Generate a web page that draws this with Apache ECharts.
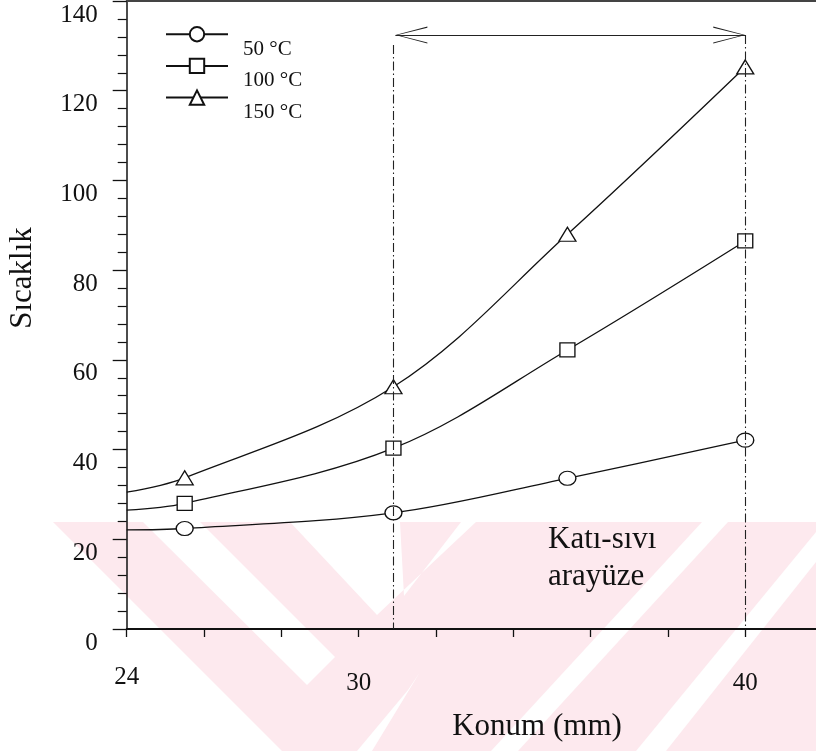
<!DOCTYPE html>
<html><head><meta charset="utf-8">
<script src="https://cdn.jsdelivr.net/npm/echarts@6/dist/echarts.min.js"></script>
<style>html,body{margin:0;padding:0;background:#fff}#c{width:816px;height:751px}</style>
</head><body><div id="c"></div>
<script>
// ---- data ----
const positions = [25.5, 30.9, 35.4, 40];          // Konum (mm) of markers
const curveStartX = 24;                            // curves start at axis
const curveStart = [22.1, 26.5, 30.5];             // curve value at x=24 for each series
const s50  = [22.4, 25.9, 33.6, 42.1];
const s100 = [28.0, 40.3, 62.2, 86.5];
const s150 = [33.7, 54.0, 88.0, 125.3];
const seriesNames = ['50 °C', '100 °C', '150 °C'];
const seriesSymbols = ['circle', 'rect', 'triangle'];
const xLabelValues = [24, 30, 40];
const xMin = 24, xMax = 41.83, xStep = 2;
const yMin = 0, yMax = 140, yStep = 20;
const interfaceLeft = 30.9, interfaceRight = 40;   // vertical dashed lines
const leftLineTop = 130.2, arrowLevel = 132.4, arrowStart = 30.95;
const annotation = 'Katı-sıvı\narayüze';

const FONT = '"Liberation Serif", "Times New Roman", serif';
const INK = '#111';

function buildData(vals, startVal) {
  const d = [{ value: [curveStartX, startVal], symbol: 'none' }];
  positions.forEach((x, i) => d.push([x, vals[i]]));
  return d;
}
const allVals = [s50, s100, s150];
const symSizes = [[17, 14], [15, 14], [17, 14]];
const chevron = 'path://M0,20 L5,0 L10,20 L9.3,20 L5,1.5 L0.7,20 Z';

const series = seriesNames.map((name, i) => ({
  name, type: 'line', data: buildData(allVals[i], curveStart[i]),
  smooth: 0.35, symbol: seriesSymbols[i], symbolSize: symSizes[i], showAllSymbol: true,
  clip: false, z: 3,
  lineStyle: { color: INK, width: 1.3 },
  itemStyle: { color: '#fff', borderColor: INK, borderWidth: 1.3 },
  emphasis: { disabled: true }
}));
series[0].markLine = {
  silent: true, animation: false, label: { show: false }, symbol: ['none', 'none'],
  lineStyle: { color: '#222', width: 1.1, type: [9, 3, 1.5, 3] },
  data: [
    [{ coord: [interfaceLeft, leftLineTop] }, { coord: [interfaceLeft, yMin] }],
    [{ coord: [interfaceRight, arrowLevel] }, { coord: [interfaceRight, yMin] }]
  ]
};
series[1].markLine = {
  silent: true, animation: false, label: { show: false },
  lineStyle: { color: '#222', width: 1.1, type: 'solid' },
  data: [[
    { coord: [arrowStart, arrowLevel], symbol: chevron, symbolSize: [17, 32], symbolOffset: [0, '50%'] },
    { coord: [interfaceRight, arrowLevel], symbol: chevron, symbolSize: [17, 32], symbolOffset: [0, '50%'] }
  ]]
};

const PINK = '#fde9ee';
const watermark = {
  type: 'group', z: -100, silent: true,
  children: [
    { type: 'polygon', shape: { points: [[53,522],[816,522],[816,751],[282,751]] }, style: { fill: PINK } },
    { type: 'polygon', shape: { points: [[143,522],[200,522],[335,657],[307,685]] }, style: { fill: '#fff' } },
    { type: 'polygon', shape: { points: [[290,522],[400,522],[404,596],[461,522],[476,522],[377,615]] }, style: { fill: '#fff' } },
    { type: 'polygon', shape: { points: [[702,522],[728,522],[518,751],[491,751]] }, style: { fill: '#fff' } },
    { type: 'polygon', shape: { points: [[816,532],[816,562],[666,751],[636,751]] }, style: { fill: '#fff' } },
    { type: 'polygon', shape: { points: [[408,690],[420,672],[372,751],[357,751]] }, style: { fill: '#fff' } }
  ]
};

const chart = echarts.init(document.getElementById('c'), null, { renderer: 'canvas' });
chart.setOption({
  animation: false,
  backgroundColor: '#fff',
  grid: { left: 126.7, top: 1, right: 0, height: 628, show: false },
  legend: {
    data: seriesNames, orient: 'vertical', left: 165, top: 26, padding: 0,
    itemWidth: 62, itemHeight: 18, itemGap: -2, selectedMode: false,
    formatter: '{t|{name}}',
    textStyle: {
      fontFamily: FONT, fontSize: 21, color: INK,
      rich: { t: { fontFamily: FONT, fontSize: 21, color: INK, padding: [30, 0, 0, 10] } }
    }
  },
  xAxis: [{
    type: 'value', min: xMin, max: xMax, interval: xStep,
    axisLine: { lineStyle: { color: INK, width: 1.8 } },
    axisTick: { length: 8, lineStyle: { color: INK, width: 1.3 } },
    splitLine: { show: false },
    axisLabel: {
      margin: 35.5, color: INK, fontFamily: FONT, fontSize: 25, showMaxLabel: false,
      formatter: v => xLabelValues.includes(v) ? (v === 24 ? '{s|' + v + '}' : '{n|' + v + '}') : '',
      rich: { n: { lineHeight: 37, fontFamily: FONT, fontSize: 25, color: INK }, s: { lineHeight: 25, fontFamily: FONT, fontSize: 25, color: INK } }
    }
  }, {
    type: 'value', position: 'top', min: xMin, max: xMax, interval: xStep,
    axisLine: { show: true, lineStyle: { color: '#444', width: 2 } },
    axisTick: { show: false }, axisLabel: { show: false }, splitLine: { show: false }
  }],
  yAxis: {
    type: 'value', min: yMin, max: yMax, interval: yStep,
    axisLine: { show: true, lineStyle: { color: INK, width: 1.5 } },
    axisTick: { show: true, length: 14, lineStyle: { color: INK, width: 1.3 } },
    minorTick: { show: true, splitNumber: 5, length: 9, lineStyle: { color: INK, width: 1.2 } },
    splitLine: { show: false }, minorSplitLine: { show: false },
    axisLabel: { margin: 29, color: INK, fontFamily: FONT, fontSize: 25, verticalAlign: 'top', lineHeight: 28 }
  },
  graphic: [
    watermark,
    { type: 'text', x: 23, y: 278, rotation: Math.PI / 2, z: 10,
      style: { text: 'Sıcaklık', fontFamily: FONT, fontSize: 31, fill: INK, align: 'center', verticalAlign: 'middle' } },
    { type: 'text', x: 537, y: 727, z: 10,
      style: { text: 'Konum (mm)', fontFamily: FONT, fontSize: 31, fill: INK, align: 'center', verticalAlign: 'middle' } },
    { type: 'text', x: 548, y: 521.5, z: 10,
      style: { text: annotation, fontFamily: FONT, fontSize: 31, lineHeight: 37, fill: INK, align: 'left', verticalAlign: 'top' } }
  ],
  series
});
</script></body></html>
